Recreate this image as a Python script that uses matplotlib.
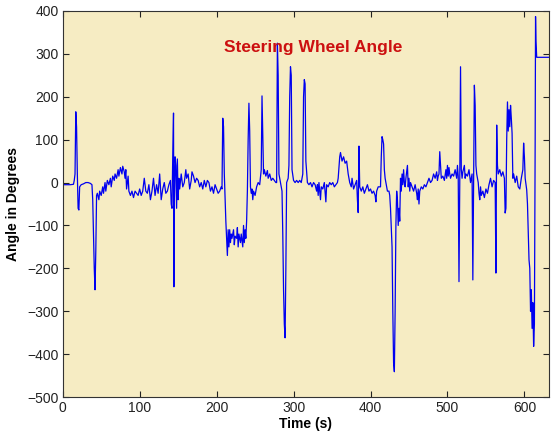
import matplotlib
matplotlib.use("Agg")
import matplotlib.pyplot as plt

# steering wheel angle trace
time_s = [0, 5, 10, 14, 15, 16, 17, 18, 19, 20, 21, 22, 24, 27, 30, 33, 36, 38, 39, 40, 41, 42, 43, 44,
          45, 47, 48, 50, 52, 53, 55, 56, 58, 60, 62, 63, 65, 67, 68, 70, 72, 73, 75, 77, 78, 80, 81, 82,
          83, 85, 86, 88, 90, 92, 94, 96, 98, 100, 102, 104, 106, 108, 110, 112, 114, 116, 118, 120, 122,
          124, 126, 128, 130, 132, 134, 136, 138, 140, 141, 142, 143, 144, 144.5, 145, 146, 147, 148, 149,
          150, 151, 152, 154, 156, 158, 160, 161, 163, 165, 167, 168, 170, 172, 174, 176, 178, 180, 182,
          184, 186, 188, 190, 192, 194, 196, 198, 200, 202, 204, 206, 207, 208, 209, 210, 212, 214, 215,
          216, 217, 218, 219, 220, 222, 223, 224, 226, 227, 228, 229, 231, 232, 234, 235, 236, 237, 238,
          239, 240, 241, 242, 243, 244, 245, 246, 247, 248, 250, 252, 254, 256, 258, 259, 260, 261, 262,
          264, 266, 267, 269, 271, 273, 275, 277, 278, 279, 280, 281, 283, 285, 286, 287, 288, 289, 290,
          291, 293, 294, 295, 296, 297, 298, 300, 302, 304, 306, 308, 310, 312, 313, 314, 315, 316, 318,
          320, 322, 324, 326, 328, 330, 331, 332, 333, 335, 336, 338, 340, 342, 343, 345, 347, 349, 351,
          353, 355, 357, 358, 360, 361, 363, 365, 367, 369, 371, 373, 375, 376, 378, 380, 382, 383, 384,
          385, 386, 388, 390, 392, 394, 396, 398, 400, 402, 404, 406, 407, 408, 410, 413, 414, 415, 416,
          417, 418, 419, 420, 421, 422, 424, 425, 426, 428, 429, 430, 431, 432, 433, 434, 435, 436, 437,
          438, 439, 440, 441, 442, 443, 444, 445, 446, 448, 449, 450, 451, 452, 454, 456, 458, 460, 461,
          462, 463, 464, 466, 468, 470, 472, 474, 476, 478, 480, 482, 484, 486, 487, 488, 489, 490, 491,
          492, 494, 496, 498, 499, 500, 501, 502, 503, 504, 506, 508, 510, 512, 513, 514, 515, 516, 517,
          518, 519, 520, 522, 523, 524, 526, 528, 530, 532, 533, 534, 535, 536, 537, 538, 540, 541, 542,
          543, 544, 546, 548, 550, 552, 554, 556, 558, 560, 562, 563, 564, 565, 566, 568, 570, 572, 574,
          575, 576, 577, 578, 579, 580, 581, 582, 583, 584, 585, 586, 588, 590, 592, 594, 596, 598, 599,
          600, 601, 603, 604, 606, 607, 608, 609, 610, 611, 612, 613, 614, 614.5, 615, 616, 632]
angle_deg = [-5, -5, -5, -4, 5, 20, 165, 130, 20, -60, -64, -10, -5, -3, 0, 0, -2, -5, -40, -120, -200, -250, -160, -30,
             -25, -40, -20, -30, -10, -25, 0, -20, 5, -5, 10, -10, 15, 5, 20, 10, 30, 15, 35, 20, 38, 25, 10, 30,
             -15, 15, -20, -30, -20, -35, -20, -25, -30, -15, -30, -20, 10, -20, -25, -5, -40, -20, 10, -30, -5,
             -25, 20, -40, -15, 0, -25, -20, -5, 5, -50, -60, 60, 162, -243, -50, 60, 40, -60, 55,
             -40, 10, -15, 20, -10, 0, 30, 10, 20, -15, 5, 25, 15, 0, 10, 5, -10, 0, -15,
             5, -10, 5, 0, -20, -10, -25, -5, -15, -25, -20, -10, -15, 150, 130, 20, -90, -170, -110,
             -150, -110, -140, -120, -130, -110, -145, -125, -130, -105, -150, -120, -140, -120, -150, -100, -140, -110, -130,
             -90, -20, 100, 185, 120, -10, -25, -15, -40, -20, -30, -10, 0, -5, 30, 202, 110, 20, 30,
             15, 28, 10, 20, 5, 10, 5, 0, 0, 325, 250, 20, 0, -20, -120, -250, -330, -362, -200,
             0, 10, 40, 200, 270, 250, 30, 5, 0, 5, 0, 5, 0, 20, 200, 240, 230, 50, 0,
             -5, 0, -10, 0, -5, -20, -5, -30, 0, -40, -10, -15, 0, -45, -5, -10, 0, -5, 0,
             -10, -5, 0, 10, 60, 70, 50, 60, 45, 50, 20, 0, -10, 10, -15, -5, 5, -40, -70,
             85, -10, -20, -10, -25, -15, -5, -20, -15, -25, -20, -30, -45, -20, -10, -10, 60, 107, 100,
             90, 30, 10, 0, -10, -20, -20, -30, -60, -150, -300, -420, -441, -300, -100, -20, -40, -100, -60,
             -90, 10, -20, 20, -5, 30, 0, -10, 10, 40, -10, 10, -20, 0, -10, -20, -5, -25, -40,
             -15, -50, -20, -10, -15, -5, -10, 0, 10, 0, 5, 20, 10, 25, 5, 15, 20, 72, 40,
             10, 15, 5, 30, 10, 40, 15, 35, 20, 10, 20, 15, 30, 10, 40, 15, -231, 0, 270,
             30, 10, 25, 40, 10, 20, 15, 30, 0, 20, -227, 10, 227, 180, 40, 20, 0, -25, -40,
             -10, -30, -20, -35, -15, -25, -5, 10, -10, 5, 0, -211, 134, 40, 20, 30, 15, 25, 10,
             -71, -60, 100, 188, 120, 170, 130, 180, 150, 115, 10, 20, 0, 15, -10, -15, 10, 30, 92,
             60, 10, -17, -50, -180, -200, -300, -250, -340, -280, -382, -330, 100, 387, 330, 292, 292]

x_ticks = [0, 100, 200, 300, 400, 500, 600]
y_ticks = [-500, -400, -300, -200, -100, 0, 100, 200, 300, 400]

plt.rcParams['font.family'] = ['Liberation Sans', 'DejaVu Sans']

fig = plt.figure(figsize=(5.53, 4.43), dpi=100)
ax = fig.add_axes([0.1134, 0.1038, 0.8794, 0.8714])
ax.set_facecolor('#F6ECC3')

ax.plot(time_s, angle_deg, color='#0000F0', linewidth=0.9)

ax.set_xlim(0, 632)
ax.set_ylim(-500, 400)
ax.set_xticks(x_ticks)
ax.set_yticks(y_ticks)
ax.tick_params(direction='in', length=4, width=0.8, top=True, right=True,
               labelsize=10, colors='#222222', pad=3)
for s in ax.spines.values():
    s.set_linewidth(0.8)
    s.set_color('#333333')

ax.set_xlabel('Time (s)', fontsize=10, fontweight='bold', labelpad=1)
ax.set_ylabel('Angle in Degrees', fontsize=10, fontweight='bold', labelpad=5)
ax.text(0.515, 0.905, 'Steering Wheel Angle', transform=ax.transAxes, ha='center', va='center',
        color='#CC1010', fontsize=12.5, fontweight='bold')

fig.savefig('out.png', dpi=100)
